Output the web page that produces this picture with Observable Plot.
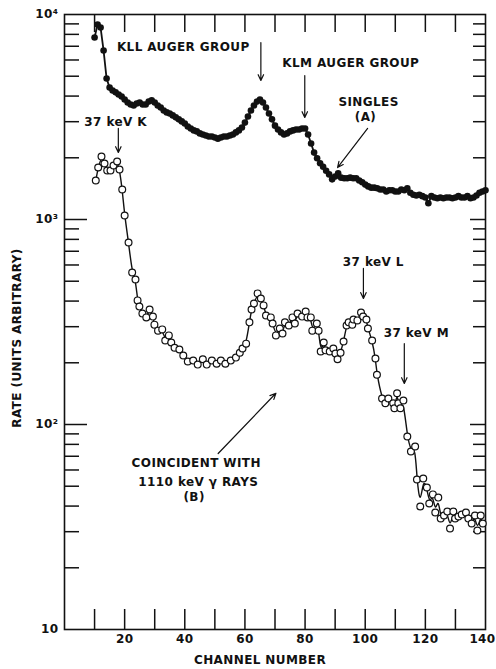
<!DOCTYPE html>
<html><head><meta charset="utf-8">
<script src="https://cdn.jsdelivr.net/npm/d3@7"></script>
<script src="https://cdn.jsdelivr.net/npm/@observablehq/plot@0.6"></script>
<style>
body{margin:0;background:#fff;}
#chart svg text{letter-spacing:0.4px;}
</style></head><body><div id="chart"></div>
<script>
// Singles (A): filled dots
const singlesChannel = [10,11,12,13,14,15,16,17,18,19,20,21,22,23,24,25,26,27,28,29,30,31,32,33,34,35,36,37,38,39,40,41,42,43,44,45,46,47,48,49,50,51,52,53,54,55,56,57,58,59,60,61,62,63,64,65,66,67,68,69,70,71,72,73,74,75,76,77,78,79,80,81,82,83,84,85,86,87,88,89,90,91,92,93,94,95,96,97,98,99,100,101,102,103,104,105,106,107,108,109,110,111,112,113,114,115,116,117,118,119,120,121,122,123,124,125,126,127,128,129,130,131,132,133,134,135,136,137,138,139,140];
const singlesRate = [7720,8940,8640,6670,4870,4400,4260,4170,4070,3980,3850,3720,3640,3600,3680,3720,3640,3640,3760,3810,3720,3600,3520,3400,3330,3290,3220,3150,3080,3010,2940,2840,2780,2720,2690,2630,2600,2570,2540,2540,2510,2480,2510,2540,2540,2570,2600,2660,2720,2810,2970,3180,3400,3600,3760,3850,3720,3520,3290,3080,2870,2750,2660,2600,2630,2690,2720,2750,2750,2780,2780,2600,2350,2120,1990,1880,1810,1730,1660,1570,1620,1680,1600,1590,1590,1600,1590,1590,1550,1520,1480,1450,1430,1430,1420,1400,1400,1370,1390,1390,1370,1370,1400,1390,1420,1350,1320,1310,1320,1300,1280,1200,1300,1280,1270,1280,1270,1280,1280,1270,1280,1300,1280,1280,1300,1270,1280,1310,1350,1370,1390];

// Coincident with 1110 keV gamma rays (B): open circles
const coincChannel = [10.4,11.2,12.3,13.3,14.2,15.3,16.3,17.5,18.3,19.2,20,21.3,22.5,23.6,24.3,24.9,25.9,27.2,28.3,29.4,29.9,31.1,32.5,33.5,34.7,35.5,36.6,38.2,39.5,41,42.8,44.3,46,47.3,49,50.6,52,53.5,55.3,57,58.3,59.2,60.4,61.5,62.2,63,64.2,65.3,66.2,67,68.6,69.2,70.3,71.6,72.5,73.3,74.6,75.8,76.6,77.5,79,80.2,80.8,81.9,82.4,83.9,84.5,85.2,86.2,86.8,88.2,89.4,90.1,90.8,91.8,92.8,93.8,94.5,95.7,96.1,97.4,98.6,99.3,100.4,100.9,102.3,103.4,103.9,105.6,106.7,107.7,109.3,109.7,110.6,111,111.7,112.7,114,115.2,116.6,117.2,118.3,119.3,120.5,121.3,122.5,123.3,124.3,125.1,126.2,127.3,128.2,129.3,129.9,131,132.1,133.5,134.3,135.4,136.5,137.3,138.4,139.1];
const coincRate = [1550,1793,2029,1876,1734,1734,1834,1918,1753,1401,1046,772,551,510,403,376,348,333,364,336,307,287,291,257,272,251,237,232,217,203,205,196,208,196,205,198,205,198,205,212,224,235,248,315,364,389,436,412,381,340,333,311,272,294,278,315,304,333,311,348,336,356,333,333,287,311,287,227,251,230,227,235,222,208,224,254,304,315,307,325,322,352,336,325,294,257,210,175,134,127,134,127,120,142,127,120,131,87.4,73.8,78.1,53.9,39.8,54.5,49.3,41.2,45.6,37.2,44.0,34.8,36.0,37.6,31.1,37.6,34.8,35.6,36.4,37.2,34.8,32.9,36.0,30.4,36.0,32.9];

// Axis ticks and labels
const xTickValues = [10,20,30,40,50,60,70,80,90,100,110,120,130];
const xLabelValues = [20,40,60,80,100,120];
const xLastLabel = [140];
const yTickValues = [10,100,1000,10000];
const yTickLabels = ["10","10²","10³","10⁴"];
const yMajorInner = [100,1000];
const yMinor = [20,30,40,50,60,70,80,90,200,300,400,500,600,700,800,900,2000,3000,4000,5000,6000,7000,8000,9000];

// Annotations (text placed at channel / rate)
const noteText = ["KLL AUGER GROUP","KLM AUGER GROUP","SINGLES","(A)","37 keV K","37 keV L","37 keV M","COINCIDENT WITH","1110 keV γ RAYS","(B)"];
const noteChannel = [39.5,95.2,101.1,100.1,17.0,102.7,117.0,43.8,44.5,43.1];
const noteRate = [6900,5770,3720,3145,2970,617,278,64.5,52.1,44.0];
const arrowFromChannel = [65.3,79.9,100.8,17.9,99.4,113.0,51.1];
const arrowFromRate = [7300,5040,2780,2780,577,248,72.2];
const arrowToChannel = [65.3,79.9,90.8,17.9,99.4,113.0,70.3];
const arrowToRate = [4765,3145,1793,2123,412,158.5,142];

const singles = singlesChannel.map((c,i)=>({channel:c, rate:singlesRate[i]}));
const coinc = coincChannel.map((c,i)=>({channel:c, rate:coincRate[i]}));
const notes = noteText.map((t,i)=>({label:t, channel:noteChannel[i], rate:noteRate[i]}));
const arrows = arrowFromChannel.map((c,i)=>({x1:c, y1:arrowFromRate[i], x2:arrowToChannel[i], y2:arrowToRate[i]}));

const ink = "#111";
const chart = Plot.plot({
  width: 496, height: 669,
  marginLeft: 64, marginRight: 11, marginTop: 14, marginBottom: 40,
  style: {fontFamily: "DejaVu Sans", fontSize: "12px", fontWeight: "bold", color: ink, background: "#fff"},
  x: {domain: [0, 140]},
  y: {type: "log", domain: [10, 10000]},
  marks: [
    Plot.frame({stroke: ink, strokeWidth: 1.6}),
    // inward tick marks
    Plot.tickY(yMajorInner, {insetRight: 398, stroke: ink, strokeWidth: 1.5}),
    Plot.tickY(yMinor, {insetRight: 406, stroke: ink, strokeWidth: 1.5}),
    Plot.tickY(yMajorInner, {insetLeft: 406, stroke: ink, strokeWidth: 1.5}),
    Plot.tickY(yMinor, {insetLeft: 409, stroke: ink, strokeWidth: 1.5}),
    Plot.tickX(xTickValues, {insetTop: 595, stroke: ink, strokeWidth: 1.5}),
    Plot.tickX(xTickValues, {insetBottom: 597, stroke: ink, strokeWidth: 1.5}),
    Plot.axisX({ticks: xLabelValues, tickSize: 0, tickPadding: 5, label: null, fontSize: 12}),
    Plot.axisX({ticks: xLastLabel, tickSize: 0, tickPadding: 5, label: null, fontSize: 12, dx: -3}),
    Plot.axisY({ticks: yTickValues, tickFormat: d => yTickLabels[yTickValues.indexOf(d)], tickSize: 0, tickPadding: 6, label: null, fontSize: 12}),
    Plot.text(["CHANNEL NUMBER"], {frameAnchor: "bottom", dy: 31, dx: -15, textAnchor: "middle", lineAnchor: "middle", fontSize: 12, fontWeight: "bold"}),
    Plot.text(["RATE (UNITS ARBITRARY)"], {frameAnchor: "left", dx: -47, dy: 16, rotate: -90, textAnchor: "middle", lineAnchor: "middle", fontSize: 12, fontWeight: "bold"}),
    // series A
    Plot.line(singles, {x: "channel", y: "rate", stroke: ink, strokeWidth: 1.8}),
    Plot.dot(singles, {x: "channel", y: "rate", r: 3.3, fill: ink, stroke: "none"}),
    // series B
    Plot.line(coinc, {x: "channel", y: "rate", stroke: ink, strokeWidth: 1.4, curve: "basis"}),
    Plot.dot(coinc, {x: "channel", y: "rate", r: 3.4, fill: "#fff", stroke: ink, strokeWidth: 1.2}),
    // annotations
    Plot.arrow(arrows, {x1: "x1", y1: "y1", x2: "x2", y2: "y2", stroke: ink, strokeWidth: 1.2, headLength: 8, headAngle: 50}),
    Plot.text(notes, {x: "channel", y: "rate", text: "label", fontSize: 12, fontWeight: "bold", fill: ink})
  ]
});
document.getElementById("chart").append(chart);
</script></body></html>
